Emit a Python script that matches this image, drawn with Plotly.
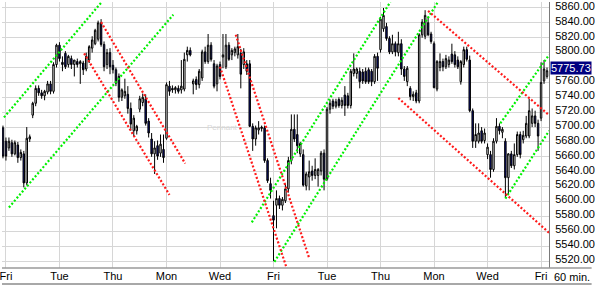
import plotly.graph_objects as go

# ---- data (60-minute bars, index 0..183) ----
bar_index = list(range(184))
open_ = [5699,5681,5672,5679,5664,5676,5659,5664,5625,5684,
         5716,5732,5752,5746,5742,5747,5758,5748,5784,5810,
         5787,5799,5784,5792,5784,5788,5785,5786,5778,5790,
         5806,5812,5818,5840,5811,5784,5800,5783,5777,5768,
         5740,5742,5744,5725,5695,5695,5724,5733,5738,5708,
         5684,5664,5675,5665,5670,5685,5755,5752,5750,5752,
         5750,5751,5797,5803,5758,5764,5757,5766,5801,5788,
         5810,5785,5758,5784,5794,5781,5810,5797,5800,5797,
         5799,5784,5785,5785,5701,5684,5696,5698,5699,5655,
         5624,5581,5595,5604,5595,5601,5617,5655,5697,5690,
         5664,5663,5621,5633,5641,5635,5635,5641,5665,5630,
         5724,5735,5728,5737,5729,5743,5742,5729,5772,5772,
         5775,5774,5775,5777,5775,5761,5795,5804,5832,5835,
         5819,5801,5812,5800,5812,5778,5761,5752,5741,5746,
         5735,5824,5822,5840,5825,5812,5751,5780,5788,5781,
         5784,5798,5797,5790,5761,5784,5804,5790,5722,5681,
         5681,5695,5682,5663,5663,5643,5681,5701,5693,5681,
         5632,5664,5648,5663,5690,5683,5688,5688,5705,5715,
         5705,5712,5762,5768]
high = [5702,5686,5686,5683,5682,5680,5670,5668,5700,5690,
        5734,5756,5756,5750,5750,5762,5762,5787,5812,5814,
        5795,5802,5797,5796,5790,5792,5790,5789,5800,5810,
        5822,5832,5843,5845,5815,5805,5806,5790,5780,5772,
        5752,5765,5755,5733,5716,5703,5742,5745,5744,5712,
        5692,5681,5682,5690,5690,5760,5762,5756,5755,5756,
        5790,5800,5808,5807,5765,5768,5778,5804,5808,5825,
        5814,5790,5785,5788,5825,5825,5814,5806,5808,5825,
        5805,5806,5790,5790,5705,5702,5708,5702,5702,5658,
        5632,5601,5615,5608,5606,5624,5660,5717,5717,5717,
        5680,5670,5640,5655,5648,5658,5645,5668,5670,5727,
        5737,5738,5738,5740,5740,5755,5746,5778,5799,5780,
        5780,5778,5780,5780,5778,5798,5800,5848,5860,5840,
        5822,5824,5815,5828,5818,5782,5782,5755,5748,5750,
        5826,5845,5857,5848,5828,5815,5790,5799,5792,5797,
        5795,5812,5802,5795,5790,5808,5808,5796,5725,5705,
        5705,5700,5698,5678,5668,5685,5712,5705,5700,5685,
        5665,5668,5678,5694,5694,5695,5715,5738,5725,5722,
        5710,5787,5790,5780]
low = [5658,5655,5668,5660,5662,5652,5655,5619,5622,5680,
       5712,5728,5742,5738,5736,5744,5744,5745,5780,5788,
       5775,5778,5780,5778,5768,5780,5758,5770,5775,5786,
       5800,5810,5815,5808,5775,5778,5771,5772,5755,5734,
       5735,5738,5718,5695,5688,5690,5720,5728,5702,5686,
       5660,5637,5656,5660,5652,5683,5742,5746,5745,5745,
       5745,5748,5788,5795,5744,5750,5752,5762,5785,5785,
       5788,5752,5748,5764,5779,5778,5789,5790,5795,5792,
       5752,5778,5770,5700,5668,5675,5690,5694,5652,5625,
       5604,5520,5564,5590,5588,5598,5612,5650,5680,5665,
       5660,5620,5615,5615,5628,5630,5620,5635,5615,5628,
       5718,5724,5725,5726,5725,5715,5725,5725,5768,5765,
       5752,5758,5758,5758,5755,5758,5762,5800,5828,5816,
       5798,5798,5795,5795,5770,5762,5755,5736,5735,5732,
       5732,5820,5818,5822,5812,5752,5748,5775,5775,5778,
       5780,5785,5780,5778,5757,5780,5788,5720,5672,5672,
       5678,5678,5678,5657,5632,5640,5678,5690,5685,5605,
       5610,5645,5643,5660,5658,5678,5685,5685,5700,5700,
       5668,5708,5758,5765]
close = [5661,5661,5681,5664,5679,5659,5666,5625,5685,5687,
         5732,5752,5746,5742,5748,5758,5748,5784,5810,5792,
         5784,5781,5795,5784,5790,5784,5788,5777,5795,5808,
         5817,5830,5840,5811,5781,5800,5781,5777,5759,5740,
         5750,5748,5725,5704,5712,5701,5738,5740,5705,5692,
         5664,5672,5661,5677,5659,5757,5748,5750,5753,5748,
         5755,5791,5803,5797,5762,5757,5775,5801,5788,5810,
         5791,5755,5782,5768,5797,5810,5791,5803,5805,5808,
         5771,5801,5775,5701,5684,5699,5699,5700,5655,5628,
         5615,5575,5604,5595,5603,5617,5655,5697,5684,5675,
         5678,5622,5637,5640,5635,5643,5643,5665,5630,5724,
         5732,5728,5734,5729,5736,5729,5729,5775,5778,5778,
         5761,5762,5761,5761,5761,5795,5779,5845,5850,5819,
         5801,5812,5801,5812,5778,5768,5779,5741,5744,5735,
         5824,5841,5850,5824,5815,5753,5788,5788,5781,5792,
         5790,5788,5784,5781,5788,5804,5791,5722,5681,5690,
         5692,5681,5692,5673,5643,5681,5701,5695,5697,5632,
         5664,5648,5663,5690,5663,5689,5705,5722,5715,5705,
         5688,5760,5778,5775.73]

day_tick_index = [1, 19, 37, 55, 73, 91, 109, 127, 145, 163, 181]
day_tick_labels = ["Fri", "Tue", "Thu", "Mon", "Wed", "Fri",
                   "Tue", "Thu", "Mon", "Wed", "Fri"]
price_ticks = [5520, 5540, 5560, 5580, 5600, 5620, 5640, 5660, 5680,
               5700, 5720, 5740, 5760, 5780, 5800, 5820, 5840, 5860]
# the 5780 label is covered by the last-price box in the reference
price_tick_text = ["5520.00", "5540.00", "5560.00", "5580.00", "5600.00",
                   "5620.00", "5640.00", "5660.00", "5680.00", "5700.00",
                   "5720.00", "5740.00", "5760.00", "", "5800.00",
                   "5820.00", "5840.00", "5860.00"]
last_price = 5775.73

# trend channels: (start bar, start price, end bar, end price)
green_lines = [(0.33, 5713, 33.0, 5867),
               (2.0, 5592, 57.3, 5851),
               (83.7, 5572, 130.3, 5868),
               (91.3, 5519, 146.3, 5868),
               (167.3, 5705, 183.7, 5797),
               (169.0, 5604, 183.7, 5695)]
red_lines = [(33.0, 5841, 61.3, 5651),
             (27.3, 5799, 56.0, 5609),
             (78.3, 5824, 103.0, 5524),
             (73.0, 5781, 97.3, 5488),
             (143.0, 5856, 183.7, 5716),
             (133.0, 5739, 183.7, 5558)]

fig = go.Figure()

for (x0, y0, x1, y1) in green_lines:
    fig.add_trace(go.Scatter(x=[x0, x1], y=[y0, y1], mode="lines",
                             line=dict(color="#00f000", width=2.2, dash="2px,2px"),
                             hoverinfo="skip", showlegend=False))
for (x0, y0, x1, y1) in red_lines:
    fig.add_trace(go.Scatter(x=[x0, x1], y=[y0, y1], mode="lines",
                             line=dict(color="#ff1a1a", width=2.2, dash="2px,2px"),
                             hoverinfo="skip", showlegend=False))

fig.add_trace(go.Candlestick(
    x=bar_index, open=open_, high=high, low=low, close=close,
    increasing=dict(fillcolor="white", line=dict(color="black", width=1)),
    decreasing=dict(fillcolor="#0a1080", line=dict(color="black", width=1)),
    whiskerwidth=0, showlegend=False))

fig.update_layout(
    width=595, height=285,
    margin=dict(l=0, r=43, t=0, b=17),
    paper_bgcolor="white", plot_bgcolor="white",
    font=dict(family="Liberation Sans, Arial, sans-serif", size=11, color="black"),
    showlegend=False,
    xaxis=dict(range=[-0.33, 183.67], tickmode="array",
               tickvals=day_tick_index, ticktext=day_tick_labels,
               showgrid=True, gridcolor="#d6d6d6", gridwidth=1,
               zeroline=False, showline=False, ticks="",
               ticklabeloverflow="allow",
               rangeslider=dict(visible=False), fixedrange=True),
    yaxis=dict(range=[5510.7, 5868], side="right", tickmode="array",
               tickvals=price_ticks, ticktext=price_tick_text,
               showgrid=True, gridcolor="#d6d6d6", gridwidth=1,
               zeroline=False, showline=True, linecolor="#7a7a7a",
               linewidth=1, ticks="", ticklabelstandoff=3,
               ticklabelshift=-2, ticklabeloverflow="allow",
               fixedrange=True),
)

# axis baseline and bottom frame line spanning into the label column
fig.add_shape(type="line", xref="paper", yref="paper", x0=0, x1=595/552,
              y0=0, y1=0, line=dict(color="#9a9a9a", width=1.5))
fig.add_shape(type="line", xref="paper", yref="paper", x0=0, x1=595/552,
              y0=-16/268, y1=-16/268, line=dict(color="#a8a8a8", width=2))

fig.add_annotation(x=1, xref="paper", y=last_price, yref="y",
                   text="5775.73", showarrow=False, xanchor="left", xshift=1,
                   yshift=3, bgcolor="#000080", font=dict(color="white", size=11),
                   borderpad=0)
fig.add_annotation(x=1, xref="paper", y=0, yref="paper",
                   text="60 min.", showarrow=False, xanchor="left", xshift=3,
                   yanchor="top", yshift=-1, font=dict(size=11))
fig.add_annotation(x=74, y=5699, text="Pennant", showarrow=False,
                   font=dict(size=8, color="#d8d8d8"))

fig.write_html("out.html")
